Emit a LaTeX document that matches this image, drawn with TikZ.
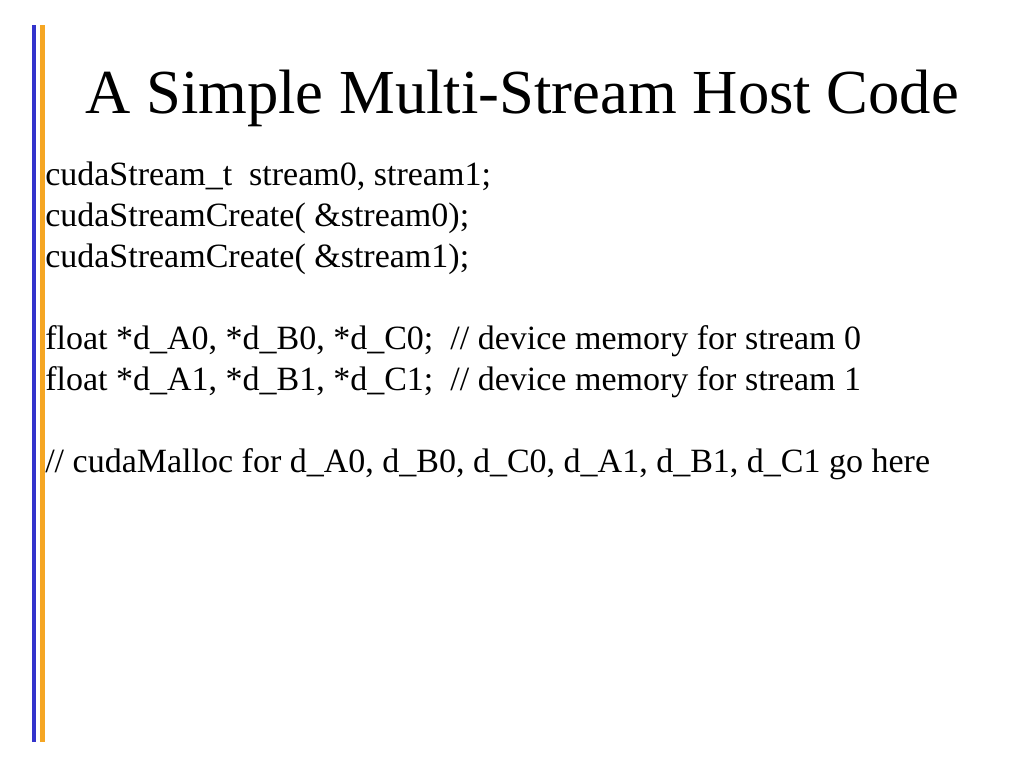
\documentclass[tikz,border=0pt]{standalone}
\usepackage{fontspec}
\setmainfont{Liberation Serif}
\definecolor{barblue}{HTML}{3333CC}
\definecolor{barorange}{HTML}{F5A623}
\tikzset{
  codeline/.style={anchor=base west,inner sep=0pt,font=\fontsize{25.5}{30}\selectfont},
  titletext/.style={anchor=base west,inner sep=0pt,font=\fontsize{47}{54}\selectfont}
}
\begin{document}
\begin{tikzpicture}[x=0.75pt,y=-0.75pt]
\useasboundingbox (0,0) rectangle (1024,768);
% side bars
\fill[barblue] (32,25) rectangle (36,742);
\fill[barorange] (40,25) rectangle (45,742);
% title
\node[titletext] (title) at (85,113) {A Simple Multi-Stream Host Code};
% code lines
\node[codeline] (l1) at (45,185) {cudaStream\_t\ \ stream0, stream1;};
\node[codeline] (l2) at (45,226) {cudaStreamCreate( \&stream0);};
\node[codeline] (l3) at (45,267) {cudaStreamCreate( \&stream1);};
\node[codeline] (l4) at (45,349) {float *d\_A0, *d\_B0, *d\_C0;\ \ // device memory for stream 0};
\node[codeline] (l5) at (45,390) {float *d\_A1, *d\_B1, *d\_C1;\ \ // device memory for stream 1};
\node[codeline] (l6) at (45,472) {// cudaMalloc for d\_A0, d\_B0, d\_C0, d\_A1, d\_B1, d\_C1 go here};
\end{tikzpicture}
\end{document}
